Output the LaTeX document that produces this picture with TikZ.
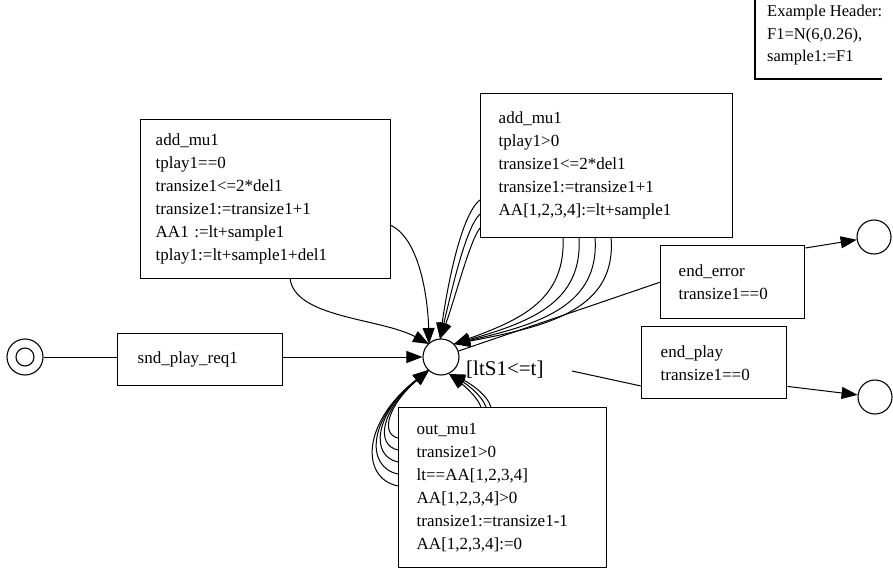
\documentclass[tikz,border=0pt]{standalone}
\usepackage{fontspec}
\setmainfont{Liberation Serif}
\usetikzlibrary{arrows.meta,calc}
\begin{document}
\begin{tikzpicture}[x=1pt,y=-1pt,
  font=\fontsize{17}{23}\selectfont,
  box/.style={draw, line width=1.4pt, anchor=north west, align=left, inner ysep=0pt},
  place/.style={circle, draw, line width=1.1pt, inner sep=0pt},
  conn/.style={line width=1pt},
  arr/.style={line width=1pt, -{Triangle[length=16pt,width=12pt]}}]
\useasboundingbox (0,0) rectangle (893,569);

% header
\node (hdr) [anchor=north west, align=left, inner sep=0pt, font=\fontsize{16.5}{22.5}\selectfont] at (767,5)
  {Example Header:\\F1=N(6,0.26),\\sample1:=F1};
\coordinate (h1) at (755,0);
\coordinate (h2) at (755,79);
\coordinate (h3) at (882,79);
\draw[line width=1.2pt] (h1) -- (h2) -- (h3);

% transition boxes
\node (b1) [box, inner xsep=15pt, text width=220pt, minimum height=159pt] at (140,119)
  {add\_mu1\\tplay1==0\\transize1<=2*del1\\transize1:=transize1+1\\AA1 :=lt+sample1\\tplay1:=lt+sample1+del1};
\node (b2) [box, inner xsep=18pt, text width=216pt, minimum height=144pt] at (480,93)
  {add\_mu1\\tplay1>0\\transize1<=2*del1\\transize1:=transize1+1\\AA[1,2,3,4]:=lt+sample1};
\node (ee) [box, inner xsep=18pt, text width=108pt, minimum height=73pt] at (660,245)
  {end\_error\\transize1==0};
\node (ep) [box, inner xsep=19pt, text width=107pt, minimum height=72pt] at (641,326)
  {end\_play\\transize1==0};
\node (snd) [box, inner xsep=20pt, text width=125pt, minimum height=52pt] at (117,333)
  {snd\_play\_req1};
\node (om) [box, inner xsep=18pt, text width=172pt, minimum height=160pt] at (398,407)
  {out\_mu1\\transize1>0\\lt==AA[1,2,3,4]\\AA[1,2,3,4]>0\\transize1:=transize1-1\\AA[1,2,3,4]:=0};

% places
\node (p) [place, minimum size=36pt] at (441,357) {};
\node (lbl) [anchor=west, inner sep=0pt, font=\fontsize{21}{24}\selectfont] at (466,370) {[ltS1<=t]};
\node (dc) [place, minimum size=36pt] at (25,357) {};
\node (dci) [place, minimum size=18pt] at (25,357) {};
\node (ec1) [place, minimum size=34pt] at (874,237) {};
\node (ec2) [place, minimum size=34pt] at (875,397) {};

% start
\draw[conn] (dc.east) -- (snd.west |- dc.east);
\draw[arr] (snd.east |- p.west) -- (p.west);

% box1 arcs
\coordinate (t1) at (429,344);
\draw[arr] (290,278) .. controls (294,318) and (380,318) .. (t1);
\draw[arr] (390,225) .. controls (420,238) and (428,300) .. (t1);

% box2 left arcs
\coordinate (t2) at (440,339);
\draw[arr] (480,200) .. controls (460,215) and (446,295) .. (t2);
\draw[arr] (480,214) .. controls (465,228) and (450,298) .. (t2);
\draw[arr] (480,228) .. controls (470,240) and (454,302) .. (t2);

% box2 bottom arcs
\coordinate (t3) at (454,344);
\draw[arr] (563,237) .. controls (566,300) and (520,320) .. (t3);
\draw[arr] (579,237) .. controls (583,303) and (530,322) .. (t3);
\draw[arr] (595,237) .. controls (600,306) and (540,324) .. (t3);
\draw[arr] (611,237) .. controls (617,309) and (550,326) .. (t3);

% to end_error
\draw[conn] (p) -- (ee.west);
\draw[arr] ($(ee.north east)+(0,3)$) -- (ec1);

% to end_play
\coordinate (lq) at (572,371);
\draw[conn] (lq) -- ($(ep.north west)+(0,60)$);
\draw[arr] ($(ep.south east)+(0,-13)$) -- (ec2);

% out_mu1 left arcs
\coordinate (t4) at (429,370);
\draw[arr] (398,438) .. controls (380,434) and (388,405) .. (t4);
\draw[arr] (398,450) .. controls (375,445) and (381,410) .. (t4);
\draw[arr] (398,462) .. controls (370,456) and (374,414) .. (t4);
\draw[arr] (398,474) .. controls (365,467) and (368,418) .. (t4);
\draw[arr] (398,486) .. controls (360,478) and (362,422) .. (t4);

% out_mu1 top arcs
\coordinate (t5) at (449,374);
\draw[arr] (481,407) .. controls (477,396) and (462,384) .. (t5);
\draw[arr] (486,407) .. controls (482,395) and (465,383) .. (t5);
\draw[arr] (491,407) .. controls (487,394) and (468,382) .. (t5);
\end{tikzpicture}
\end{document}
